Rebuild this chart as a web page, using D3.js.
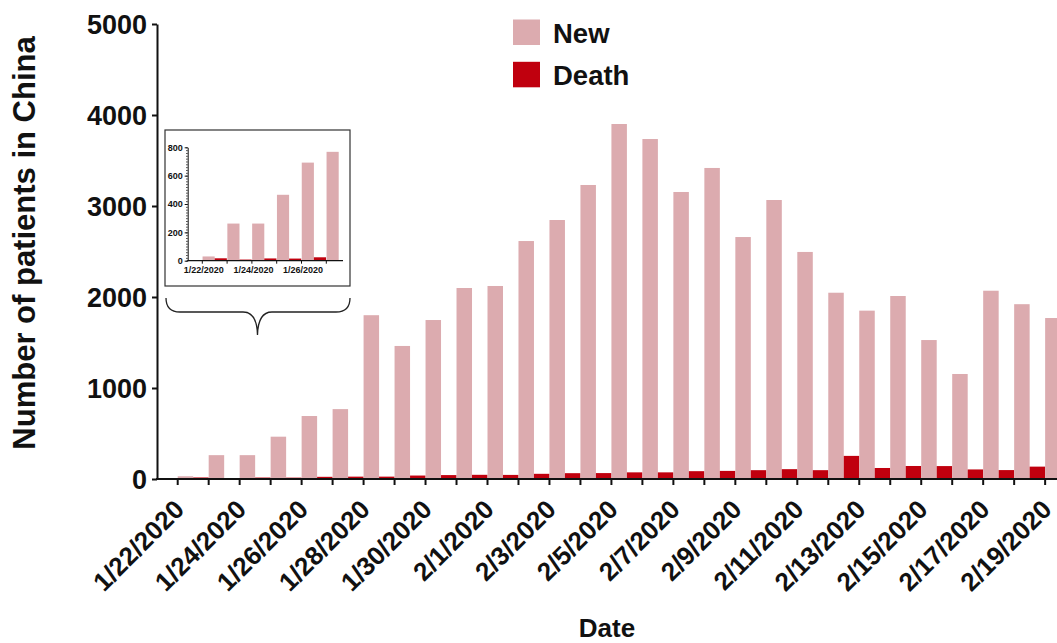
<!DOCTYPE html>
<html>
<head>
<meta charset="utf-8">
<script src="https://cdn.jsdelivr.net/npm/d3@7"></script>
<style>
  body { margin: 0; background: #fff; }
  svg text { font-family: 'Liberation Sans', Arial, sans-serif; font-weight: bold; fill: #111; }
</style>
</head>
<body>
<div id="chart"></div>
<script>
// data
const dates = ['1/22/2020','1/23/2020','1/24/2020','1/25/2020','1/26/2020','1/27/2020','1/28/2020',
  '1/29/2020','1/30/2020','1/31/2020','2/1/2020','2/2/2020','2/3/2020','2/4/2020','2/5/2020',
  '2/6/2020','2/7/2020','2/8/2020','2/9/2020','2/10/2020','2/11/2020','2/12/2020','2/13/2020',
  '2/14/2020','2/15/2020','2/16/2020','2/17/2020','2/18/2020','2/19/2020'];
const newCases = [30, 262, 262, 465, 692, 768, 1800, 1462, 1747, 2099, 2121, 2615, 2846, 3231, 3901,
  3736, 3154, 3418, 2659, 3066, 2495, 2047, 1850, 2011, 1527, 1154, 2069, 1921, 1769];
const deaths = [0, 17, 8, 16, 15, 24, 26, 26, 38, 43, 46, 45, 57, 64, 65,
  73, 73, 86, 89, 97, 108, 97, 254, 121, 143, 142, 105, 98, 136];
const yTicks = [0, 1000, 2000, 3000, 4000, 5000];
const insetCount = 6;
const insetTicks = [0, 200, 400, 600, 800];
const seriesNames = ['Death', 'New'];
const legendNames = ['New', 'Death'];
const colors = { New: '#dcabaf', Death: '#c0000e' };

const width = 1057, height = 643;
const svg = d3.select('#chart').append('svg')
  .attr('width', width).attr('height', height);

const rows = dates.map((d, i) => ({ date: d, New: newCases[i], Death: deaths[i] }));

// ---- main chart ----
const step = 30.98;
const x0 = d3.scaleBand(dates, [177.7 - step / 2, 177.7 - step / 2 + step * dates.length]);
const x1 = d3.scaleBand(seriesNames, [0, x0.bandwidth()]);
const y = d3.scaleLinear([0, 5000], [479, 24]);

const groups = svg.append('g').selectAll('g.day')
  .data(rows).join('g')
  .attr('class', 'day')
  .attr('transform', d => `translate(${x0(d.date)},0)`);
groups.selectAll('rect')
  .data(d => seriesNames.map(k => ({ key: k, value: d[k] })))
  .join('rect')
  .attr('x', d => x1(d.key))
  .attr('y', d => y(d.value))
  .attr('width', x1.bandwidth())
  .attr('height', d => y(0) - y(d.value))
  .attr('fill', d => colors[d.key]);

// y axis
const yAxis = svg.append('g').attr('transform', 'translate(157,0)')
  .call(d3.axisLeft(y).tickValues(yTicks).tickFormat(d3.format('d'))
    .tickSize(5).tickSizeOuter(0).tickPadding(5));
yAxis.selectAll('path,line').attr('stroke', '#111').attr('stroke-width', 2);
yAxis.selectAll('text').attr('font-size', 27).attr('dy', '0.36em');

// x axis
const xAxis = svg.append('g').attr('transform', 'translate(0,479)')
  .call(d3.axisBottom(x0).tickSize(6).tickFormat((d, i) => i % 2 === 0 ? d : ''));
xAxis.select('.domain').remove();
xAxis.selectAll('line').attr('stroke', '#111').attr('stroke-width', 2);
xAxis.selectAll('text')
  .attr('font-size', 26)
  .attr('x', 0).attr('y', 0).attr('dy', 0)
  .attr('text-anchor', 'end')
  .attr('transform', 'translate(8,32) rotate(-45)');
svg.append('line')
  .attr('x1', 156).attr('x2', width).attr('y1', 479).attr('y2', 479)
  .attr('stroke', '#111').attr('stroke-width', 2);

// axis titles
svg.append('text')
  .attr('transform', 'translate(35,243) rotate(-90)')
  .attr('text-anchor', 'middle').attr('font-size', 31)
  .text('Number of patients in China');
svg.append('text')
  .attr('x', 607).attr('y', 637)
  .attr('text-anchor', 'middle').attr('font-size', 26)
  .text('Date');

// legend
const legend = svg.append('g').selectAll('g')
  .data(legendNames).join('g')
  .attr('transform', (d, i) => `translate(513,${19.5 + i * 42.3})`);
legend.append('rect').attr('width', 27).attr('height', 25.5).attr('fill', d => colors[d]);
legend.append('text').attr('x', 40).attr('y', 23.5).attr('font-size', 27.5).text(d => d);

// ---- inset ----
const inset = svg.append('g');
inset.append('rect')
  .attr('x', 165).attr('y', 130).attr('width', 185).attr('height', 156)
  .attr('fill', '#fff').attr('stroke', '#333').attr('stroke-width', 1.2);

const insetRows = rows.slice(0, insetCount);
const istep = 24.8;
const ix0 = d3.scaleBand(insetRows.map(d => d.date), [202.3 - istep / 2, 202.3 - istep / 2 + istep * insetCount]);
const ix1 = d3.scaleBand(seriesNames, [0, ix0.bandwidth()]).paddingInner(0.04);
const iy = d3.scaleLinear([0, 800], [260.7, 147.3]);

inset.append('g').selectAll('g')
  .data(insetRows).join('g')
  .attr('transform', d => `translate(${ix0(d.date)},0)`)
  .selectAll('rect')
  .data(d => seriesNames.map(k => ({ key: k, value: d[k] })))
  .join('rect')
  .attr('x', d => ix1(d.key))
  .attr('y', d => iy(d.value))
  .attr('width', ix1.bandwidth())
  .attr('height', d => iy(0) - iy(d.value))
  .attr('fill', d => colors[d.key]);

const iyAxis = inset.append('g').attr('transform', 'translate(187.7,0)')
  .call(d3.axisLeft(iy).tickValues(insetTicks).tickFormat(d3.format('d'))
    .tickSize(3).tickSizeOuter(0).tickPadding(2));
iyAxis.selectAll('path,line').attr('stroke', '#111').attr('stroke-width', 1);
iyAxis.selectAll('text').attr('font-size', 9);
const iyMinor = inset.append('g').attr('transform', 'translate(187.7,0)')
  .call(d3.axisLeft(iy).tickValues(d3.range(0, 801, 20)).tickSize(1.6).tickFormat(''));
iyMinor.select('.domain').remove();
iyMinor.selectAll('line').attr('stroke', '#111').attr('stroke-width', 0.8);

const ixAxis = inset.append('g').attr('transform', 'translate(0,260.7)')
  .call(d3.axisBottom(ix0).tickSize(3).tickFormat((d, i) => i % 2 === 0 ? d : ''));
ixAxis.select('.domain').remove();
ixAxis.selectAll('line').attr('stroke', '#111').attr('stroke-width', 1);
ixAxis.selectAll('text').attr('font-size', 9).attr('y', 6).attr('dx', 1.5);
inset.append('line')
  .attr('x1', 187.2).attr('x2', 343).attr('y1', 260.7).attr('y2', 260.7)
  .attr('stroke', '#111').attr('stroke-width', 1.2);

// brace under the inset
inset.append('path')
  .attr('d', 'M166,298 Q166,312 180,312 L243,312 Q257,312 257.5,335 Q258,312 272,312 L336,312 Q350,312 350,298')
  .attr('fill', 'none').attr('stroke', '#222').attr('stroke-width', 1.3);
</script>
</body>
</html>
